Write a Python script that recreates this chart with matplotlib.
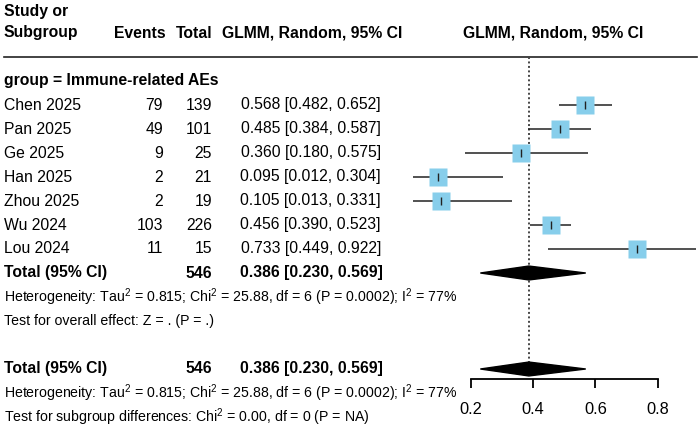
import numpy as np
import matplotlib.pyplot as plt

plt.rcParams['font.family'] = ['Liberation Sans', 'DejaVu Sans']
plt.rcParams['mathtext.default'] = 'regular'

studies = ["Chen 2025", "Pan 2025", "Ge 2025", "Han 2025", "Zhou 2025", "Wu 2024", "Lou 2024"]
events = [79, 49, 9, 2, 2, 103, 11]
totals = [139, 101, 25, 21, 19, 226, 15]
est = [0.568, 0.485, 0.360, 0.095, 0.105, 0.456, 0.733]
lo = [0.482, 0.384, 0.180, 0.012, 0.013, 0.390, 0.449]
hi = [0.652, 0.587, 0.575, 0.304, 0.331, 0.523, 0.922]

pooled = 0.386
pooled_lo = 0.230
pooled_hi = 0.569
pooled_n = 546
ticks = [0.2, 0.4, 0.6, 0.8]

het_txt = "Heterogeneity: Tau$^2$ = 0.815; Chi$^2$ = 25.88, df = 6 (P = 0.0002); I$^2$ = 77%"
effect_txt = "Test for overall effect: Z = . (P = .)"
sub_txt = "Test for subgroup differences: Chi$^2$ = 0.00, df = 0 (P = NA)"

fs = 11.3
fs_small = 10.2

# row units: row r sits at pixel 105 + 24*r
ytop = -105 / 24
ybot = (428 - 105) / 24

fig = plt.figure(figsize=(7, 4.28), dpi=100)
tx = fig.add_axes([0, 0, 1, 1])
tx.set_xlim(0, 700)
tx.set_ylim(ybot, ytop)
tx.axis('off')

# header
tx.text(4, -3.9, "Study or", fontsize=fs, fontweight='bold', va='center')
tx.text(4, -3, "Subgroup", fontsize=fs, fontweight='bold', va='center')
tx.text(166, -3, "Events", fontsize=fs, fontweight='bold', va='center', ha='right')
tx.text(212, -3, "Total", fontsize=fs, fontweight='bold', va='center', ha='right')
tx.text(312, -3, "GLMM, Random, 95% CI", fontsize=fs, fontweight='bold', va='center', ha='center')
tx.text(553, -3, "GLMM, Random, 95% CI", fontsize=fs, fontweight='bold', va='center', ha='center')
tx.plot([4, 697], [-2, -2], color='#222222', lw=1.2)

tx.text(4, -1, "group = Immune-related AEs", fontsize=fs, fontweight='bold', va='center')
for i in range(len(studies)):
    tx.text(4, i, studies[i], fontsize=fs, va='center')
    tx.text(163, i, str(events[i]), fontsize=fs, va='center', ha='right')
    tx.text(212, i, str(totals[i]), fontsize=fs, va='center', ha='right')
    tx.text(381, i, "%.3f [%.3f, %.3f]" % (est[i], lo[i], hi[i]), fontsize=fs, va='center', ha='right')

for r, last in [(7, effect_txt), (11, sub_txt)]:
    tx.text(4, r, "Total (95% CI)", fontsize=fs, fontweight='bold', va='center')
    tx.text(212, r, str(pooled_n), fontsize=fs, fontweight='bold', va='center', ha='right')
    tx.text(383, r, "%.3f [%.3f, %.3f]" % (pooled, pooled_lo, pooled_hi), fontsize=fs,
            fontweight='bold', va='center', ha='right')
    tx.text(4, r + 1, het_txt, fontsize=fs_small, va='center')
    tx.text(4, r + 2, last, fontsize=fs_small, va='center')

# forest panel, 0 at pixel 408.8, 311 px per unit
x0 = 408.8
ppu = 311.0
ax = fig.add_axes([402 / 700, 0, 298 / 700, 1])
ax.set_xlim((402 - x0) / ppu, (700 - x0) / ppu)
ax.set_ylim(ybot, ytop)
ax.patch.set_visible(False)
for s in ['top', 'left', 'right']:
    ax.spines[s].set_visible(False)
ax.set_yticks([])

rows = np.arange(len(studies))
ax.hlines(rows, lo, hi, color='#222222', lw=1.1, zorder=2)
ax.plot(est, rows, 's', ms=12.5, color='#87CEEB', mec='none', zorder=3)
ax.plot(est, rows, '|', ms=6, mew=1.0, color='#222222', zorder=4)

h = 0.29
for r in [7, 11]:
    ax.fill([pooled_lo, pooled, pooled_hi, pooled], [r, r - h, r, r + h], color='black', zorder=3)

ax.plot([pooled, pooled], [-2, 11 - h], color='#444444', lw=1.4, ls=(0, (1.0, 1.3)), zorder=1)

ax.spines['bottom'].set_position(('data', (379 - 105) / 24))
ax.spines['bottom'].set_bounds(ticks[0], ticks[-1])
ax.spines['bottom'].set_linewidth(1.3)
ax.set_xticks(ticks)
ax.set_xticklabels([str(t) for t in ticks])
ax.tick_params(axis='x', direction='out', length=6.5, width=1.3, pad=10, labelsize=fs + 0.5)

fig.savefig("out.png", dpi=100)
